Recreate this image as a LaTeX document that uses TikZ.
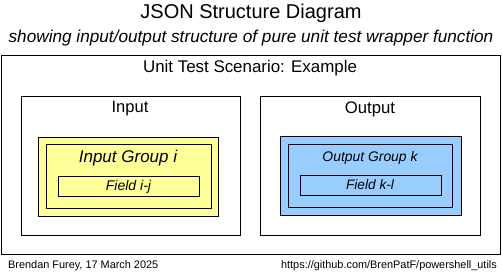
\documentclass[tikz,border=0pt]{standalone}
\usepackage{fontspec}
\setmainfont{Liberation Sans}
\definecolor{inyellow}{HTML}{FFFF99}
\definecolor{outblue}{HTML}{99CCFF}
\begin{document}
\begin{tikzpicture}[x=1pt,y=-1pt,
  box/.style={draw=black, line width=0.9pt, inner sep=0pt, anchor=north west},
  lbl/.style={inner sep=0pt, anchor=base, text=black},
]
\useasboundingbox (0,0) rectangle (502,271);
% boxes
\node[box, minimum width=499pt, minimum height=199pt] (scenario) at (1,55) {};
\node[box, minimum width=219pt, minimum height=139pt] (input) at (21,96) {};
\node[box, fill=inyellow, minimum width=180pt, minimum height=79pt] (ingrpouter) at (38,137) {};
\node[box, minimum width=165pt, minimum height=64pt] (ingrp) at (46,144) {};
\node[box, minimum width=141pt, minimum height=20pt] (infield) at (58,176) {};
\node[box, minimum width=220pt, minimum height=139pt] (output) at (260,96) {};
\node[box, fill=outblue, minimum width=181pt, minimum height=79pt] (outgrpouter) at (280,136) {};
\node[box, minimum width=164pt, minimum height=63pt] (outgrp) at (288,144) {};
\node[box, minimum width=141pt, minimum height=20pt] (outfield) at (300,175) {};
% texts
\node[lbl, font=\fontsize{20}{24}\selectfont] (title) at (251,18.5) {JSON Structure Diagram};
\node[lbl, font=\fontsize{17.2}{20}\selectfont\itshape] (subtitle) at (251,42.5) {showing input/output structure of pure unit test wrapper function};
\node[lbl, font=\fontsize{16.9}{20}\selectfont] (scenlbl) at (250,72.5) {Unit Test Scenario: Example};
\node[lbl, font=\fontsize{16.5}{20}\selectfont] (inlbl) at (130,112.7) {Input};
\node[lbl, font=\fontsize{16.7}{20}\selectfont] (outlbl) at (370,113) {Output};
\node[lbl, font=\fontsize{17}{20}\selectfont\itshape] (ingrplbl) at (128,162) {Input Group i};
\node[lbl, font=\fontsize{13.9}{16}\selectfont\itshape] (outgrplbl) at (370,161) {Output Group k};
\node[lbl, font=\fontsize{14}{16}\selectfont\itshape] (infieldlbl) at (128.5,190) {Field i-j};
\node[lbl, font=\fontsize{13.7}{16}\selectfont\itshape] (outfieldlbl) at (370,189) {Field k-l};
\node[lbl, anchor=base west, font=\fontsize{10.9}{13}\selectfont] (author) at (8,268) {Brendan Furey, 17 March 2025};
\node[lbl, anchor=base east, font=\fontsize{10.9}{13}\selectfont] (url) at (497,268) {https://github.com/BrenPatF/powershell\_utils};
\end{tikzpicture}
\end{document}
